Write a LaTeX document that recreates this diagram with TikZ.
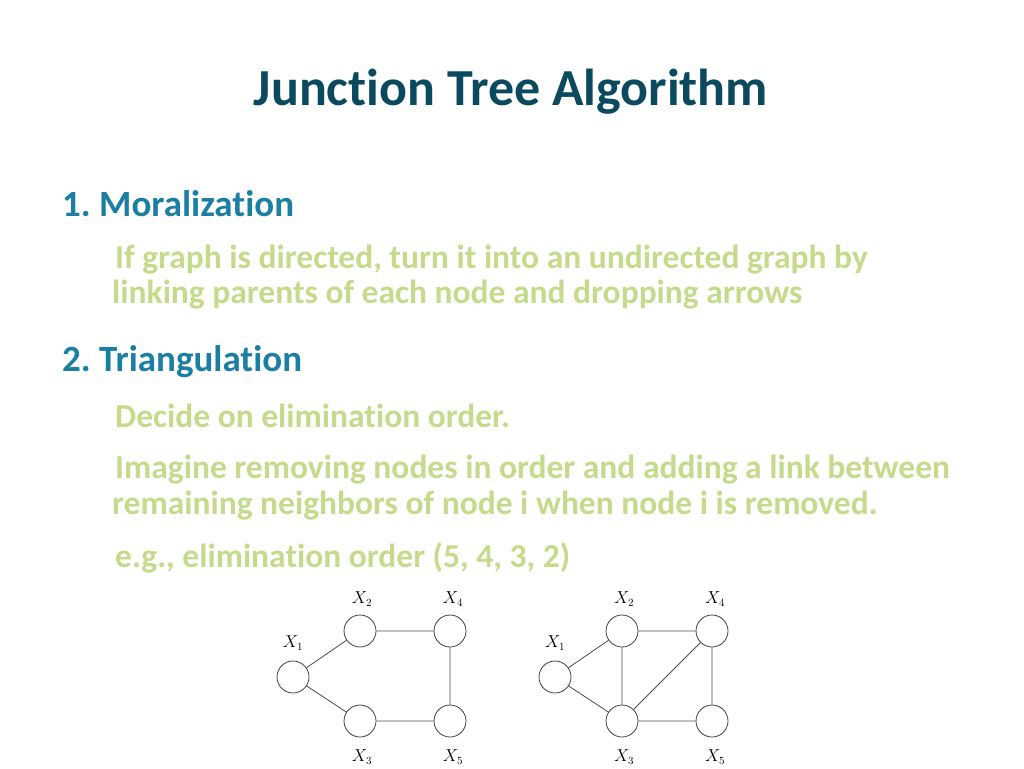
\documentclass[tikz,border=0pt]{standalone}
\usepackage{fontspec}
\setmainfont[Ligatures=NoCommon]{Carlito}
\frenchspacing
\definecolor{titlec}{HTML}{0B4A5E}
\definecolor{headc}{HTML}{1B7FA3}
\definecolor{bodyc}{HTML}{C6DA8C}
\begin{document}
\begin{tikzpicture}[x=1pt,y=-1pt,
  vert/.style={circle,draw=black!75,line width=0.8pt,minimum size=32pt,inner sep=0pt},
  edge/.style={draw=black!70,line width=0.8pt},
  lab/.style={font=\fontsize{16}{18}\selectfont},
  head/.style={anchor=west,text=headc,inner sep=0pt,font=\fontsize{37}{40}\selectfont\bfseries},
  body/.style={anchor=west,text=bodyc,inner sep=0pt,font=\fontsize{33.5}{36}\selectfont\bfseries}]
\useasboundingbox (0,0) rectangle (1024,768);
\node[text=titlec,font=\fontsize{52}{56}\selectfont\bfseries] (t) at (511,92) {Junction Tree Algorithm};
\node[head] (h1) at (62,204) {1. Moralization};
\node[body] (t1) at (115,260) {If graph is directed, turn it into an undirected graph by};
\node[body] (t2) at (112,295) {linking parents of each node and dropping arrows};
\node[head] (h2) at (62,362) {2. Triangulation};
\node[body] (t3) at (115,416) {Decide on elimination order.};
\node[body] (t4) at (115,470) {Imagine removing nodes in order and adding a link between};
\node[body] (t5) at (112,506) {remaining neighbors of node i when node i is removed.};
\node[body] (t6) at (115,558) {e.g., elimination order (5, 4, 3, 2)};
\foreach \p/\dx in {a/0,b/262}{
  \node[vert] (\p1) at (293+\dx,677) {};
  \node[vert] (\p2) at (360+\dx,631) {};
  \node[vert] (\p4) at (450+\dx,631) {};
  \node[vert] (\p3) at (360+\dx,721) {};
  \node[vert] (\p5) at (450+\dx,721) {};
  \node[lab] (\p l1) at (293+\dx,643) {$X_1$};
  \node[lab] (\p l2) at (362+\dx,599) {$X_2$};
  \node[lab] (\p l4) at (453+\dx,599) {$X_4$};
  \node[lab] (\p l3) at (362+\dx,757) {$X_3$};
  \node[lab] (\p l5) at (453+\dx,757) {$X_5$};
  \draw[edge] (\p1)--(\p2) (\p1)--(\p3) (\p2)--(\p4) (\p4)--(\p5) (\p3)--(\p5);
}
\draw[edge] (b2)--(b3) (b3)--(b4);
\end{tikzpicture}
\end{document}
